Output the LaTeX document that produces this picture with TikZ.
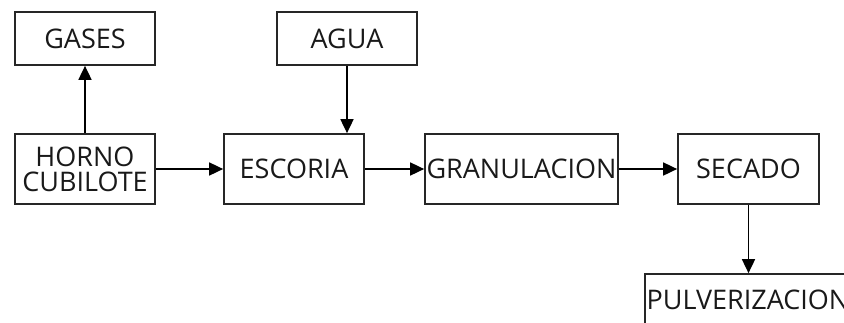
\documentclass[tikz,border=0pt]{standalone}
\usepackage{fontspec}
\setmainfont{Open Sans}
\usetikzlibrary{arrows.meta}
\begin{document}
\begin{tikzpicture}[x=1pt,y=-1pt,
  box/.style={draw=black!85,line width=1.7pt,rectangle,inner sep=0pt,minimum width=#1,font=\fontsize{27}{25}\selectfont,align=center,text=black!90},
  conn/.style={line width=1.7pt,-{Triangle[length=14pt,width=13pt]}}]
\useasboundingbox (0,0) rectangle (844,322);
\clip (0,0) rectangle (844,322);
\node[box=140pt,minimum height=53pt] (gases) at (85,38.5) {GASES};
\node[box=140pt,minimum height=53pt] (agua) at (347,38.5) {AGUA};
\node[box=140pt,minimum height=70pt] (horno) at (85,169) {HORNO\\CUBILOTE};
\node[box=140pt,minimum height=70pt] (escoria) at (294,169) {ESCORIA};
\node[box=193pt,minimum height=70pt] (gran) at (521.5,169) {GRANULACION};
\node[box=141pt,minimum height=70pt] (secado) at (748.5,169) {SECADO};
\node[box=200pt,minimum height=52pt] (pulv) at (747,300) {\hspace*{2pt}PULVERIZACION};
\draw[conn] (horno.north) -- (gases.south);
\draw[conn] (agua.south) -- (agua.south |- escoria.north);
\draw[conn] (horno.east) -- (escoria.west);
\draw[conn] (escoria.east) -- (gran.west);
\draw[conn] (gran.east) -- (secado.west);
\draw[conn] (secado.south) -- (secado.south |- pulv.north);
\end{tikzpicture}
\end{document}
